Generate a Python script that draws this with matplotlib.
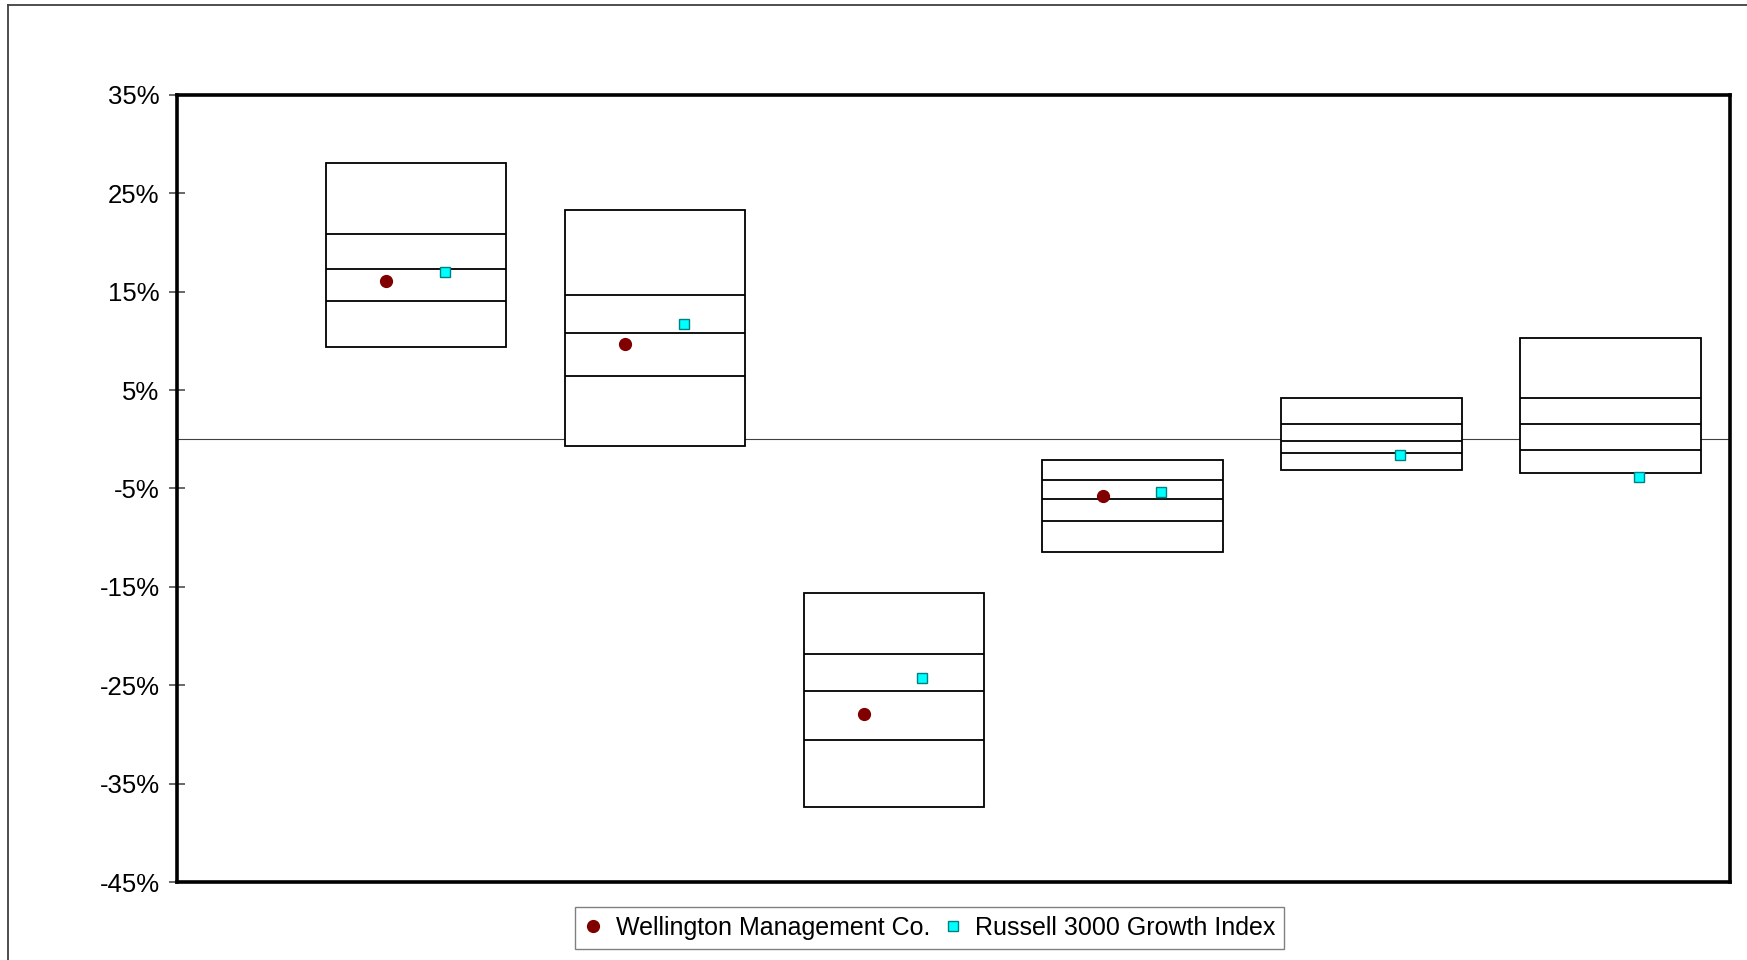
import numpy as np
import matplotlib.pyplot as plt
from matplotlib.lines import Line2D
from matplotlib.ticker import FuncFormatter

# box percentiles (%), one entry per period
p95 = [28.1, 23.3, -15.6, -2.1, 4.2, 10.3]
p75 = [20.9, 14.7, -21.8, -4.1, 1.6, 4.2]
p50 = [17.3, 10.8, -25.6, -6.1, -0.2, 1.6]
p25 = [14.1, 6.4, -30.6, -8.3, -1.4, -1.1]
p05 = [9.4, -0.7, -37.4, -11.5, -3.1, -3.4]

wellington = [16.1, 9.7, -27.9, -5.8, np.nan, np.nan]
russell = [17.0, 11.7, -24.3, -5.4, -1.6, -3.8]

yticks = [35, 25, 15, 5, -5, -15, -25, -35, -45]

plt.rcParams['font.family'] = ['Liberation Sans', 'DejaVu Sans']

fig = plt.figure(figsize=(17.47, 9.6), dpi=100)
ax = fig.add_axes([177 / 1747, 1 - 882 / 960, (1730 - 177) / 1747, (882 - 95) / 960])

x = np.arange(1, len(p95) + 1)
w = 0.755

# boxes
ax.bar(x, np.array(p95) - np.array(p05), bottom=p05, width=w,
       facecolor='white', edgecolor='black', linewidth=1.3, zorder=2)
for arr in (p75, p50, p25):
    ax.hlines(arr, x - w / 2, x + w / 2, colors='black', linewidth=1.3, zorder=3)

ax.axhline(0, color='#404040', linewidth=0.8, zorder=1)

ax.plot(x - 0.125, wellington, linestyle='none', marker='o', markersize=8.5,
        color='#800000', markeredgecolor='#800000', zorder=4,
        label='Wellington Management Co.')
ax.plot(x + 0.12, russell, linestyle='none', marker='s', markersize=7.5,
        markerfacecolor='#00FFFF', markeredgecolor='#008080', markeredgewidth=1.0,
        zorder=4, label='Russell 3000 Growth Index')

ax.set_xlim(0, 6.5)
ax.set_ylim(-45, 35)
ax.set_xticks([])
ax.set_yticks(yticks)
ax.yaxis.set_major_formatter(FuncFormatter(lambda v, p: '%d%%' % v))
ax.tick_params(axis='y', direction='inout', length=11, width=1.1,
               color='#404040', labelsize=18.5, pad=7)
for s in ax.spines.values():
    s.set_linewidth(2.6)
    s.set_color('black')

leg = fig.legend(loc='center', bbox_to_anchor=(929.5 / 1747, 1 - 928 / 960), ncol=2,
                 fontsize=18, frameon=True, fancybox=False, handlelength=0.8,
                 handletextpad=0.5, columnspacing=0.5, borderpad=0.35)
leg.get_frame().set_edgecolor('#606060')
leg.get_frame().set_linewidth(1.0)

# outer chart frame (cut off at right and bottom)
fig.add_artist(Line2D([8 / 1747, 1], [1 - 5 / 960, 1 - 5 / 960],
                      transform=fig.transFigure, color='#404040', linewidth=1.3))
fig.add_artist(Line2D([8 / 1747, 8 / 1747], [0, 1 - 5 / 960],
                      transform=fig.transFigure, color='#404040', linewidth=1.3))

fig.savefig('out.png', dpi=100)
